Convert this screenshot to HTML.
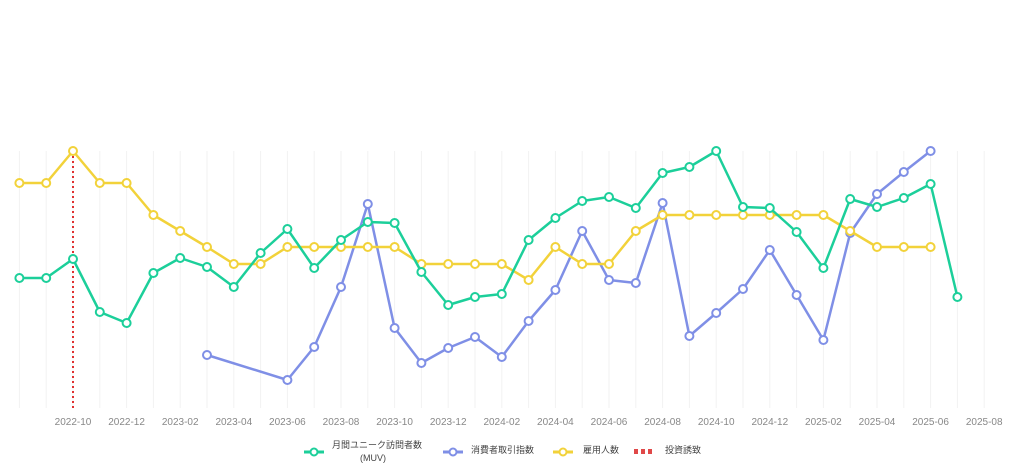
<!DOCTYPE html>
<html><head><meta charset="utf-8"><style>
body{margin:0;background:#fff;width:1024px;height:468px;overflow:hidden}
svg text{font-family:"Liberation Sans","Noto Sans CJK JP",sans-serif}
</style></head><body>
<svg width="1024" height="468" xmlns="http://www.w3.org/2000/svg">
<g id="grid" stroke="#f2f2f2" stroke-width="1"></g>
<g id="xl" font-size="10" fill="#888" text-anchor="middle"></g>
<line x1="73" y1="151" x2="73" y2="408" stroke="#e03030" stroke-width="2" stroke-dasharray="2,3"/>
<g id="series"></g>
<g font-size="9" fill="#444">
<line x1="304" y1="452" x2="324" y2="452" stroke="#1ccf9a" stroke-width="3"/><circle cx="314" cy="452" r="3.5" fill="#fff" stroke="#1ccf9a" stroke-width="2"/>
<text x="332" y="448">月間ユニーク訪問者数</text><text x="360" y="461">(MUV)</text>
<line x1="443" y1="452" x2="463" y2="452" stroke="#7f8fe6" stroke-width="3"/><circle cx="453" cy="452" r="3.5" fill="#fff" stroke="#7f8fe6" stroke-width="2"/>
<text x="471" y="453">消費者取引指数</text>
<line x1="553" y1="452" x2="573" y2="452" stroke="#f2d23a" stroke-width="3"/><circle cx="563" cy="452" r="3.5" fill="#fff" stroke="#f2d23a" stroke-width="2"/>
<text x="583" y="453">雇用人数</text>
<rect x="634" y="449" width="4" height="5" fill="#e04848"/><rect x="641" y="449" width="4" height="5" fill="#e04848"/><rect x="648" y="449" width="4" height="5" fill="#e04848"/>
<text x="665" y="453">投資誘致</text>
</g>
</svg>
<script>
const X=i=>19.4+i*26.8;
const ns="http://www.w3.org/2000/svg";
const g=document.getElementById('grid'),xl=document.getElementById('xl'),s=document.getElementById('series');
for(let i=0;i<=36;i++){const l=document.createElementNS(ns,'line');l.setAttribute('x1',X(i));l.setAttribute('x2',X(i));l.setAttribute('y1',151);l.setAttribute('y2',408);g.appendChild(l);}
const labs=['2022-10','2022-12','2023-02','2023-04','2023-06','2023-08','2023-10','2023-12','2024-02','2024-04','2024-06','2024-08','2024-10','2024-12','2025-02','2025-04','2025-06','2025-08'];
labs.forEach((t,k)=>{const e=document.createElementNS(ns,'text');e.setAttribute('x',X(2+2*k));e.setAttribute('y',425);e.textContent=t;xl.appendChild(e);});
const green=[278,278,259,312,323,273,258,267,287,253,229,268,240,222,223,272,305,297,294,240,218,201,197,208,173,167,151,207,208,232,268,199,207,198,184,297];
const yellow=[183,183,151,183,183,215,231,247,264,264,247,247,247,247,247,264,264,264,264,280,247,264,264,231,215,215,215,215,215,215,215,231,247,247,247];
const blue={7:355,10:380,11:347,12:287,13:204,14:328,15:363,16:348,17:337,18:357,19:321,20:290,21:231,22:280,23:283,24:203,25:336,26:313,27:289,28:250,29:295,30:340,31:233,32:194,33:172,34:151};
function draw(pts,c){const p=document.createElementNS(ns,'polyline');p.setAttribute('points',pts.map(q=>q.join(',')).join(' '));p.setAttribute('fill','none');p.setAttribute('stroke',c);p.setAttribute('stroke-width','2.5');p.setAttribute('stroke-linejoin','round');s.appendChild(p);
pts.forEach(q=>{const c2=document.createElementNS(ns,'circle');c2.setAttribute('cx',q[0]);c2.setAttribute('cy',q[1]);c2.setAttribute('r',4);c2.setAttribute('fill','#fff');c2.setAttribute('stroke',c);c2.setAttribute('stroke-width','2');s.appendChild(c2);});}
draw(Object.keys(blue).map(k=>[X(+k),blue[k]]),'#7f8fe6');
draw(yellow.map((v,i)=>[X(i),v]),'#f2d23a');
draw(green.map((v,i)=>[X(i),v]),'#1ccf9a');
</script>
</body></html>
